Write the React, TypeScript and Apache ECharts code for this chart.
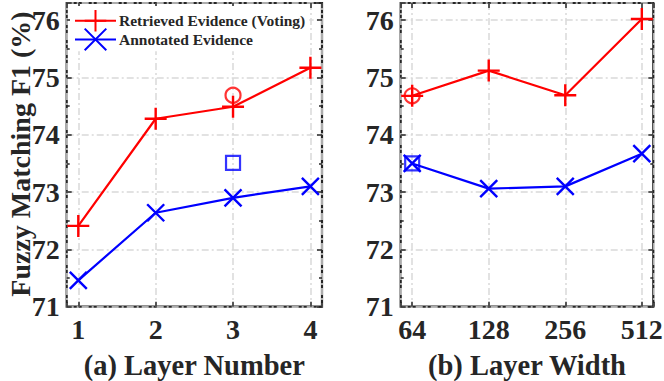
import React, { useEffect, useRef } from "react";
import * as echarts from "echarts";

const layerNumbers = ["1", "2", "3", "4"];
const retrievedByLayer = [72.41, 74.28, 74.49, 75.17];
const annotatedByLayer = [71.46, 72.64, 72.9, 73.1];
const retrievedLayerCircle = [[3, 74.69]];
const annotatedLayerSquare = [[3, 73.51]];

const layerWidths = ["64", "128", "256", "512"];
const retrievedByWidth = [74.68, 75.12, 74.69, 76.02];
const annotatedByWidth = [73.5, 73.06, 73.1, 73.67];
const retrievedWidthCircle = [[1, 74.68]];
const annotatedWidthSquare = [[1, 73.5]];

const yTicks = [71, 72, 73, 74, 75, 76];

const RED = "#ff0000";
const BLUE = "#0000ff";
const DARK = "#262626";
const GRIDC = "#d9d9d9";
const FONT = "'Liberation Serif', 'Times New Roman', serif";

const PLUS = "path://M0,-10L0,10M-10,0L10,0";
const CROSS = "path://M-10,-10L10,10M-10,10L10,-10";

export default function App() {
  const ref = useRef<HTMLDivElement>(null);
  useEffect(() => {
    if (!ref.current) return;
    const chart = echarts.init(ref.current, undefined, { renderer: "svg" });
    const toPairs = (vals: number[]) => vals.map((v, i) => [i + 1, v]);
    const grids = [
      { left: 66.7, top: 3, width: 255.3, height: 303.7 },
      { left: 400.7, top: 3, width: 252.6, height: 303.7 },
    ];
    const splitLineStyle = { color: GRIDC, width: 1.5, type: [7, 3, 2, 3] };
    const xAxes: any[] = [];
    const yAxes: any[] = [];
    [layerNumbers, layerWidths].forEach((labels, gi) => {
      xAxes.push({
        type: "value",
        gridIndex: gi,
        min: 0.85,
        max: 4.15,
        splitNumber: 3,
        axisLine: { show: false },
        axisTick: { show: true, inside: true, length: 5, lineStyle: { color: DARK, width: 1.5 } },
        axisLabel: {
          margin: 9,
          fontFamily: FONT,
          fontWeight: "bold",
          fontSize: 28,
          color: DARK,
          formatter: (v: number) =>
            Math.abs(v - Math.round(v)) < 1e-6 && v >= 1 && v <= 4 ? labels[Math.round(v) - 1] : "",
        },
        splitLine: { show: true, lineStyle: splitLineStyle },
      });
      xAxes.push({
        type: "value",
        gridIndex: gi,
        position: "top",
        min: 0.85,
        max: 4.15,
        splitNumber: 3,
        axisLine: { show: false },
        axisTick: { show: true, inside: true, length: 5, lineStyle: { color: DARK, width: 1.5 } },
        axisLabel: { show: false },
        splitLine: { show: false },
      });
      yAxes.push({
        type: "value",
        gridIndex: gi,
        min: 71,
        max: 76.3,
        interval: 1,
        axisLine: { show: false },
        axisTick: { show: true, inside: true, length: 5, lineStyle: { color: DARK, width: 1.5 } },
        minorTick: { show: true, splitNumber: 2, length: 3, lineStyle: { color: DARK, width: 1.5 } },
        axisLabel: {
          margin: 7,
          fontFamily: FONT,
          fontWeight: "bold",
          fontSize: 28,
          color: DARK,
          formatter: (v: number) => (yTicks.indexOf(Math.round(v * 1000) / 1000) >= 0 ? String(v) : ""),
        },
        splitLine: { show: true, lineStyle: splitLineStyle },
      });
      yAxes.push({
        type: "value",
        gridIndex: gi,
        position: "right",
        min: 71,
        max: 76.3,
        interval: 1,
        axisLine: { show: false },
        axisTick: { show: true, inside: true, length: 5, lineStyle: { color: DARK, width: 1.5 } },
        minorTick: { show: true, splitNumber: 2, length: 3, lineStyle: { color: DARK, width: 1.5 } },
        axisLabel: { show: false },
        splitLine: { show: false },
      });
    });

    const lineSeries = (name: string, data: number[], gi: number, color: string, symbol: string, size: number) => ({
      name,
      type: "line",
      xAxisIndex: gi * 2,
      yAxisIndex: gi * 2,
      data: toPairs(data),
      symbol,
      symbolSize: size,
      showSymbol: true,
      lineStyle: { color, width: 2.2 },
      itemStyle: { color, borderColor: color, borderWidth: 2.4 },
      z: 5,
    });
    const hollow = (name: string, data: number[][], gi: number, color: string, symbol: string, size: number) => ({
      name,
      type: "scatter",
      xAxisIndex: gi * 2,
      yAxisIndex: gi * 2,
      data,
      symbol,
      symbolSize: size,
      itemStyle: { color: "rgba(0,0,0,0)", borderColor: color, borderWidth: 2.2 },
      z: 6,
    });

    chart.setOption({
      animation: false,
      grid: grids.map((g) => ({
        ...g,
        show: true,
        backgroundColor: "#ffffff",
        borderColor: DARK,
        borderWidth: 2.2,
        containLabel: false,
        outerBoundsMode: "none",
      })),
      xAxis: xAxes,
      yAxis: yAxes,
      legend: {
        orient: "vertical",
        left: 70,
        top: 6,
        itemWidth: 41,
        itemHeight: 27,
        itemGap: -5,
        padding: [3, 4, 0, 4],
        backgroundColor: "#ffffff",
        data: ["Retrieved Evidence (Voting)", "Annotated Evidence"],
        textStyle: { fontFamily: FONT, fontWeight: "bold", fontSize: 15.5, color: DARK, padding: [0, 0, 0, -2] },
      },
      series: [
        lineSeries("Retrieved Evidence (Voting)", retrievedByLayer, 0, RED, PLUS, 22),
        lineSeries("Annotated Evidence", annotatedByLayer, 0, BLUE, CROSS, 17),
        hollow("c1", retrievedLayerCircle, 0, RED, "circle", 15),
        hollow("s1", annotatedLayerSquare, 0, BLUE, "rect", 14),
        lineSeries("Retrieved Evidence (Voting)", retrievedByWidth, 1, RED, PLUS, 22),
        lineSeries("Annotated Evidence", annotatedByWidth, 1, BLUE, CROSS, 17),
        hollow("c2", retrievedWidthCircle, 1, RED, "circle", 15),
        hollow("s2", annotatedWidthSquare, 1, BLUE, "rect", 14),
      ],
      graphic: [
        {
          type: "text",
          x: 20,
          y: 154,
          rotation: Math.PI / 2,
          style: {
            text: "Fuzzy Matching F1 (%)",
            font: `bold 28px ${FONT}`,
            fill: DARK,
            align: "center",
            verticalAlign: "middle",
          },
        },
        {
          type: "text",
          x: 194.3,
          y: 365,
          style: {
            text: "(a) Layer Number",
            font: `bold 28.5px ${FONT}`,
            fill: DARK,
            align: "center",
            verticalAlign: "middle",
          },
        },
        {
          type: "text",
          x: 527,
          y: 365,
          style: {
            text: "(b) Layer Width",
            font: `bold 28.5px ${FONT}`,
            fill: DARK,
            align: "center",
            verticalAlign: "middle",
          },
        },
      ],
    });
    return () => chart.dispose();
  }, []);
  return <div ref={ref} style={{ width: 664, height: 381, position: "absolute", left: 0, top: 0 }} />;
}
